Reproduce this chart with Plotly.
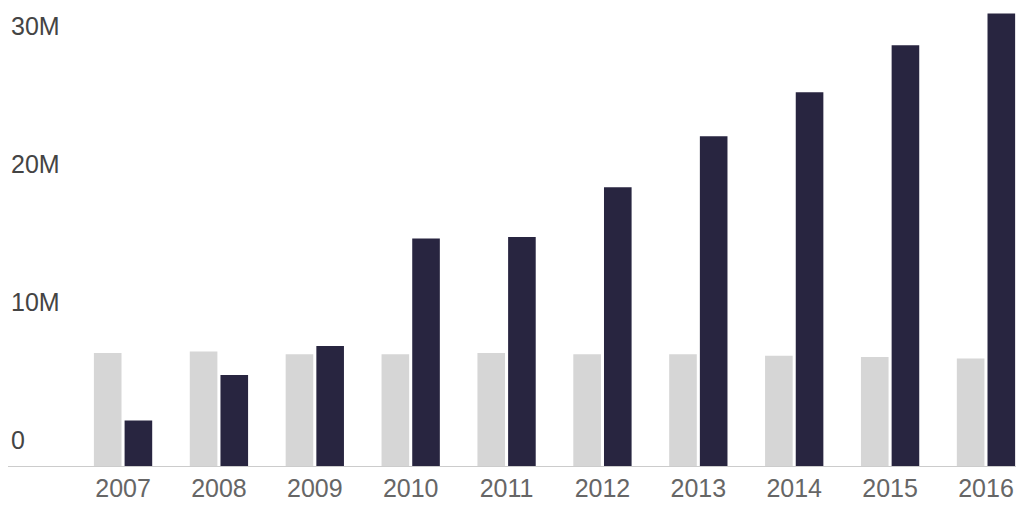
import plotly.graph_objects as go

years = ["2007","2008","2009","2010","2011","2012","2013","2014","2015","2016"]
series_a = [8.2e6,8.3e6,8.1e6,8.1e6,8.2e6,8.1e6,8.1e6,8.0e6,7.9e6,7.8e6]
series_b = [3.3e6,6.6e6,8.7e6,16.5e6,16.6e6,20.2e6,23.9e6,27.1e6,30.5e6,32.8e6]
xi = list(range(len(years)))

fig = go.Figure()
fig.add_bar(x=xi, y=series_a, marker_color="#d6d6d6", marker_line_width=0)
fig.add_bar(x=xi, y=series_b, marker_color="#282540", marker_line_width=0)
fig.update_layout(
    width=1024, height=512, barmode="group", bargap=0.36, bargroupgap=0.1,
    showlegend=False, plot_bgcolor="white", paper_bgcolor="white",
    margin=dict(l=0, r=0, t=0, b=54),
    font=dict(family="Liberation Sans", size=25, color="#666666"),
)
fig.update_xaxes(tickvals=xi, ticktext=years, range=[-1.2, 9.48],
                 showline=True, linecolor="#cccccc", linewidth=1, ticks="", showgrid=False)
fig.update_yaxes(range=[0, 33.2e6], tickvals=[0,10e6,20e6,30e6], ticktext=["0","10M","20M","30M"],
                 ticklabelposition="inside top", ticklabelshift=-8, showgrid=False, zeroline=False)
fig.write_html("out.html")
